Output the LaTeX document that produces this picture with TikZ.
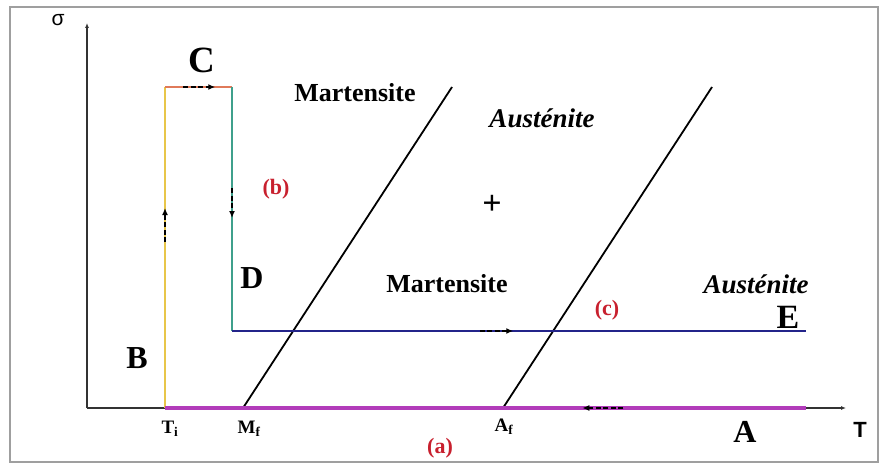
\documentclass[tikz,border=0pt]{standalone}
\usepackage{fontspec}
\setmainfont{Liberation Serif}
\setsansfont{Liberation Sans}
\usepackage{xcolor}
\usepackage{tikz}
\usetikzlibrary{arrows.meta, calc, positioning}
\definecolor{sma-yellow}{HTML}{E8C64A}
\definecolor{sma-orange}{HTML}{E07A5A}
\definecolor{sma-green}{HTML}{3FA08C}
\definecolor{sma-blue}{HTML}{23248A}
\definecolor{sma-magenta}{HTML}{B23CBA}
\definecolor{sma-red}{HTML}{C8202E}

\begin{document}
\begin{tikzpicture}[
    x=1pt, y=-1pt,
    frame/.style={draw=gray!75, line width=2pt},
    axis/.style={draw=black!80, line width=1.3pt, -{Latex[length=5pt,width=4pt]}},
    transline/.style={draw=black, line width=1.8pt},
    seg/.style={line width=1.8pt},
    flow/.style={black, dash pattern=on 5pt off 2.5pt, line width=2.2pt, -{Latex[length=7pt,width=6pt]}},
    letter/.style={font=\fontsize{32}{36}\selectfont\bfseries, anchor=base},
    phase/.style={font=\fontsize{26}{30}\selectfont\bfseries, anchor=base},
    phaseit/.style={font=\fontsize{27}{30}\selectfont\bfseries\itshape, anchor=base},
    tag/.style={font=\fontsize{22}{26}\selectfont\bfseries, text=sma-red, anchor=base},
    templabel/.style={font=\fontsize{19}{22}\selectfont\bfseries, anchor=base},
    axislabel/.style={font=\fontsize{21}{24}\selectfont\sffamily, anchor=base}
]
    \useasboundingbox (0,0) rectangle (882,468);
    \draw [frame] (10,7) rectangle (878,462);

    % --- Points ---
    \coordinate (O) at (87,408);
    \coordinate (ytop) at (87,23);
    \coordinate (xend) at (846,408);
    \coordinate (Ti) at (165,408);
    \coordinate (Bt) at (165,87);
    \coordinate (Ct) at (232,87);
    \coordinate (Dt) at (232,331);
    \coordinate (Et) at (806,331);
    \coordinate (At) at (806,408);
    \coordinate (Mf) at (243,408);
    \coordinate (Ms) at (452,87);
    \coordinate (Af) at (503,408);
    \coordinate (As) at (712,87);

    % --- Axes ---
    \draw [axis] (O) -- (ytop);
    \draw [axis] (O) -- (xend);
    \node (sigma) [axislabel] at (58,26) {σ};
    \node (temp) [axislabel, font=\fontsize{22}{24}\selectfont\sffamily\bfseries] at (860,437) {T};

    % --- Transformation lines ---
    \draw [transline] (Mf) -- (Ms);
    \draw [transline] (Af) -- (As);

    % --- Loading path ---
    \draw [seg, sma-yellow] (Ti) -- (Bt);
    \draw [seg, sma-orange] (Bt) -- (Ct);
    \draw [seg, sma-green] (Ct) -- (Dt);
    \draw [seg, sma-blue] (Dt) -- (Et);
    \draw [line width=4.5pt, sma-magenta] (Ti) -- (At);

    % --- Flow arrows ---
    \draw [flow] ($(Ti)!0.517!(Bt)$) -- ($(Ti)!0.623!(Bt)$);
    \draw [flow] ($(Bt)!0.27!(Ct)$) -- ($(Bt)!0.75!(Ct)$);
    \draw [flow] ($(Ct)!0.414!(Dt)$) -- ($(Ct)!0.537!(Dt)$);
    \draw [flow] ($(Dt)!0.432!(Et)$) -- ($(Dt)!0.490!(Et)$);
    \draw [flow] ($(At)!0.285!(Ti)$) -- ($(At)!0.349!(Ti)$);

    % --- Labels ---
    \node (lblC) [letter, font=\fontsize{37}{40}\selectfont\bfseries] at (202,73) {C};
    \node (lblB) [letter] at (137,368) {B};
    \node (lblD) [letter] at (252,288) {D};
    \node (lblE) [letter, font=\fontsize{34}{38}\selectfont\bfseries] at (788,328) {E};
    \node (lblA) [letter] at (745,442) {A};

    \node (mart1) [phase] at (355,102) {Martensite};
    \node (aust1) [phaseit] at (542,128) {Austénite};
    \node (plus) [phase, font=\fontsize{34}{36}\selectfont\bfseries] at (492,214) {+};
    \node (mart2) [phase] at (447,292) {Martensite};
    \node (aust2) [phaseit] at (756,293) {Austénite};

    \node (tagb) [tag] at (276,194) {(b)};
    \node (tagc) [tag] at (607,315) {(c)};
    \node (taga) [tag] at (440,453) {(a)};

    \node (lblTi) [templabel] at (170,433) {T\textsubscript{i}};
    \node (lblMf) [templabel] at (249,433) {M\textsubscript{f}};
    \node (lblAf) [templabel] at (504,431) {A\textsubscript{f}};

\end{tikzpicture}
\end{document}
